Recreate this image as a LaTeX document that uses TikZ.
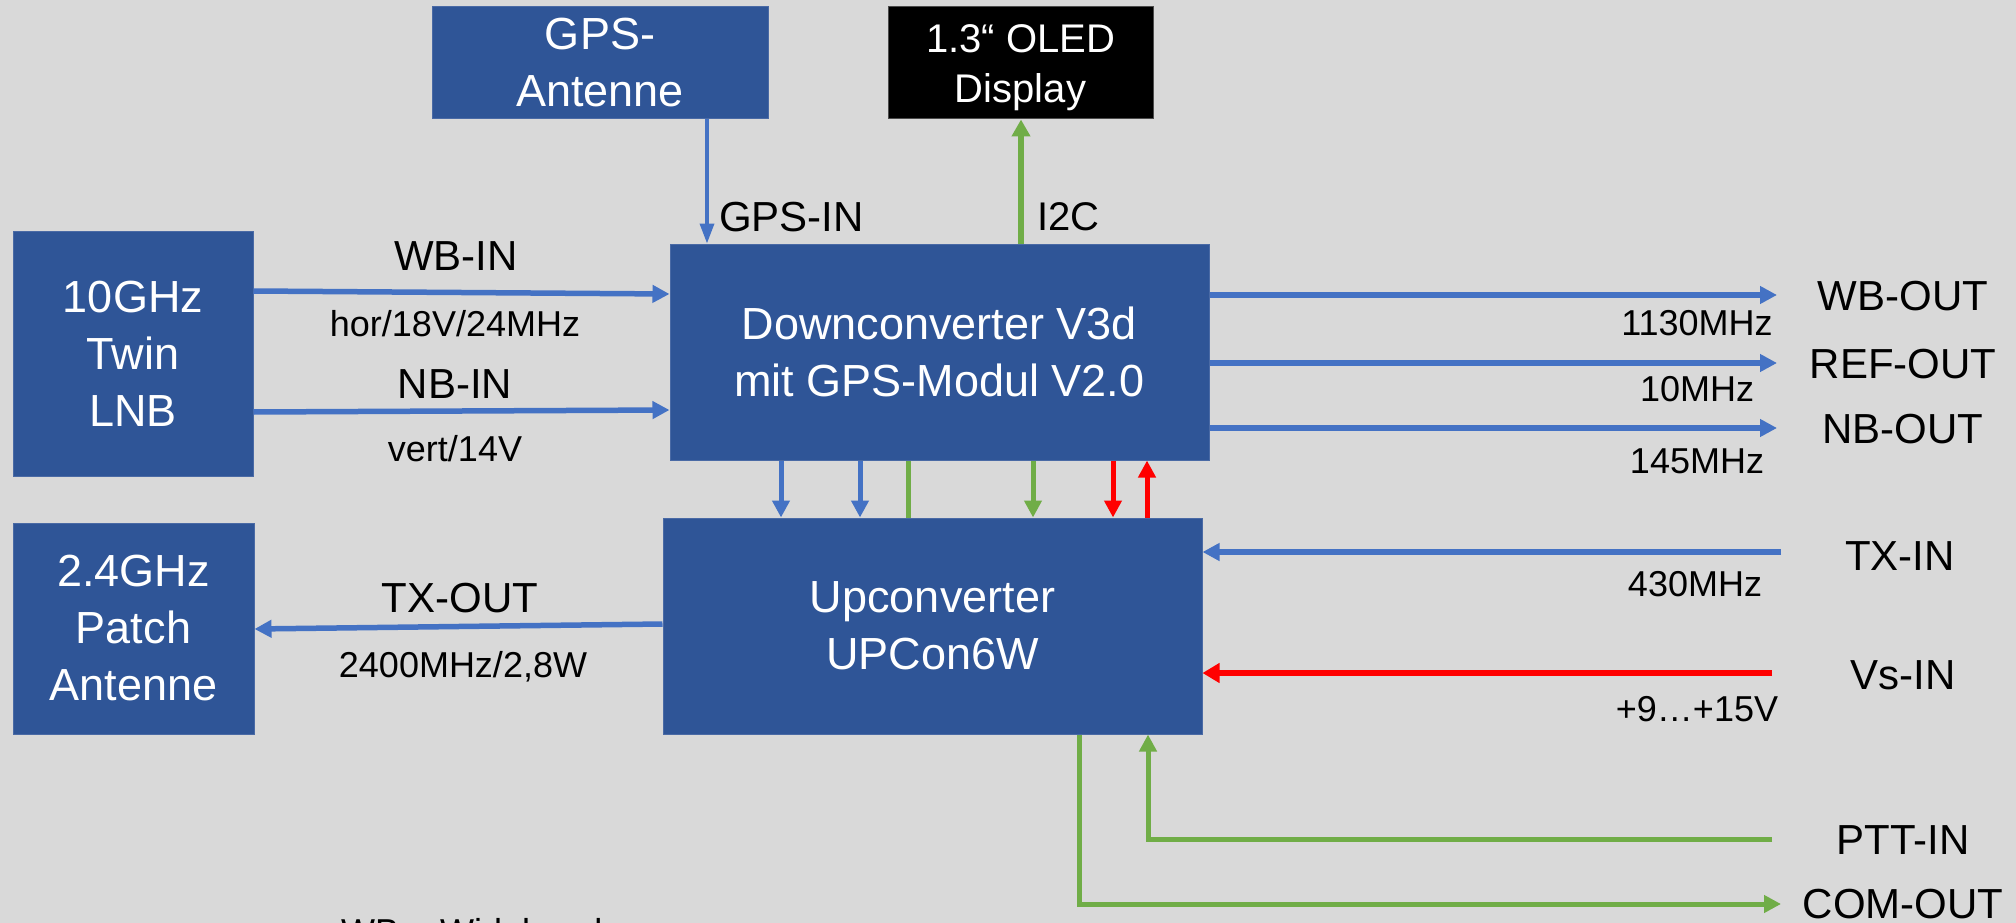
\documentclass[tikz,border=0pt]{standalone}
\usepackage{fontspec}
\setmainfont{Liberation Sans}
\usetikzlibrary{arrows.meta,calc}
\definecolor{bg}{HTML}{D9D9D9}
\definecolor{boxblue}{HTML}{2F5597}
\definecolor{boxedge}{HTML}{4A6AA5}
\definecolor{lineblue}{HTML}{4472C4}
\definecolor{linegreen}{HTML}{70AD47}
\definecolor{linered}{HTML}{FF0000}
\begin{document}
\begin{tikzpicture}[x=1pt,y=-1pt,
  blk/.style={fill=boxblue, draw=boxedge, line width=1pt, text=white, align=center, inner sep=0pt, font=\fontsize{45}{57}\selectfont},
  lab/.style={inner sep=0pt, text height=30pt, text depth=0pt, font=\fontsize{42}{50}\selectfont},
  slab/.style={inner sep=0pt, text height=26pt, text depth=0pt, font=\fontsize{36}{44}\selectfont},
  tipbig/.style={-{Triangle[length=17pt,width=17pt]}},
  barr/.style={draw=lineblue, line width=5.5pt, tipbig},
  barrthin/.style={draw=lineblue, line width=3.5pt, -{Triangle[length=20pt,width=14pt]}},
  garr/.style={draw=linegreen, line width=5pt, tipbig},
  gline/.style={draw=linegreen, line width=5pt},
  rarr/.style={draw=linered, line width=5pt, tipbig},
  rarrbig/.style={draw=linered, line width=6pt, -{Triangle[length=17pt,width=19pt]}}
]
\useasboundingbox (0,0) rectangle (2016,923);
\clip (0,0) rectangle (2016,923);
\fill[bg] (0,0) rectangle (2016,923);

% blocks
\node[blk, minimum width=240pt, minimum height=245pt] (lnb) at (133,353.5) {10GHz\\Twin\\LNB};
\node[blk, minimum width=539pt, minimum height=216pt] (dc) at (939.5,352) {Downconverter V3d\\mit GPS-Modul V2.0};
\node[blk, minimum width=336pt, minimum height=112pt] (gps) at (600,63) {GPS-\\Antenne};
\node[blk, fill=black, draw=black!70, minimum width=265pt, minimum height=112pt, font=\fontsize{40}{50}\selectfont] (oled) at (1020.5,63) {\rule{0pt}{38pt}1.3“ OLED\\Display};
\node[blk, minimum width=241pt, minimum height=211pt] (pat) at (133.5,628.5) {2.4GHz\\Patch\\Antenne};
\node[blk, minimum width=539pt, minimum height=216pt] (uc) at (932.5,626) {Upconverter\\UPCon6W};

% free ends
\coordinate (wbo) at (1777,295);
\coordinate (refo) at (1777,363);
\coordinate (nbo) at (1777,428);
\coordinate (txi) at (1781,552);
\coordinate (vsi) at (1772,673);
\coordinate (ptt) at (1772,839);
\coordinate (com) at (1781,904);

% connectors
\draw[barrthin] (gps.south -| 707,0) -- (dc.north -| 707,0);
\draw[garr, line width=6pt, -{Triangle[length=17pt,width=18pt]}] (dc.north -| 1021,0) -- (oled.south -| 1021,0);
\draw[barr] (lnb.east |- 0,291) -- (dc.west |- 0,294);
\draw[barr] (lnb.east |- 0,412) -- (dc.west |- 0,410);
\draw[barr] (dc.east |- wbo) -- (wbo);
\draw[barr] (dc.east |- refo) -- (refo);
\draw[barr] (dc.east |- nbo) -- (nbo);
\draw[barr] (txi) -- (uc.east |- txi);
\draw[rarrbig] (vsi) -- (uc.east |- vsi);
\draw[barr] (uc.west |- 0,624) -- (pat.east |- 0,629);
\draw[barr, line width=5pt] (dc.south -| 781,0) -- (uc.north -| 781,0);
\draw[barr, line width=5pt] (dc.south -| 860,0) -- (uc.north -| 860,0);
\draw[gline] (dc.south -| 908,0) -- (uc.north -| 908,0);
\draw[garr] (dc.south -| 1033,0) -- (uc.north -| 1033,0);
\draw[rarr] (dc.south -| 1113,0) -- (uc.north -| 1113,0);
\draw[rarr] (uc.north -| 1147,0) -- (dc.south -| 1147,0);
\draw[garr] (ptt) -| (uc.south -| 1148,0);
\draw[garr] (uc.south -| 1079,0) |- (com);

% labels
\node[lab] (lwbin) at (456,255) {WB-IN};
\node[slab] (lhor) at (455,323) {hor/18V/24MHz};
\node[lab] (lnbin) at (455,383) {NB-IN};
\node[slab] (lvert) at (455,448) {vert/14V};
\node[lab, anchor=west] (lgpsin) at (719,216) {GPS-IN};
\node[lab, anchor=west, font=\fontsize{40}{48}\selectfont, text height=28.6pt] (li2c) at (1037,216) {I2C};
\node[lab] (lwbout) at (1903,295) {WB-OUT};
\node[lab] (lrefout) at (1903,363) {REF-OUT};
\node[lab] (lnbout) at (1903,428) {NB-OUT};
\node[lab] (ltxin) at (1900,555) {TX-IN};
\node[lab] (lvsin) at (1903,674) {Vs-IN};
\node[lab] (lpttin) at (1903,839) {PTT-IN};
\node[lab] (lcomout) at (1903,903) {COM-OUT};
\node[slab] (l1130) at (1697,322) {1130MHz};
\node[slab] (l10) at (1697,388) {10MHz};
\node[slab] (l145) at (1697,460) {145MHz};
\node[slab] (l430) at (1695,583) {430MHz};
\node[slab] (lvs) at (1697,708) {+9…+15V};
\node[lab] (ltxout) at (460,597) {TX-OUT};
\node[slab] (l2400) at (463,664) {2400MHz/2,8W};
\node[slab, anchor=base west] (lwb) at (341,944) {WB = Wideband};
\end{tikzpicture}
\end{document}
